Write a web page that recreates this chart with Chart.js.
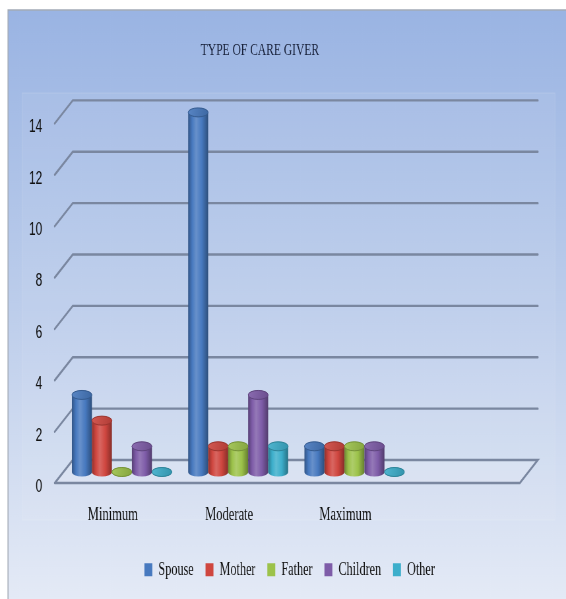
<!DOCTYPE html>
<html>
<head>
<meta charset="utf-8">
<script src="https://cdn.jsdelivr.net/npm/chart.js@4.4.1/dist/chart.umd.min.js"></script>
<style>
  html, body { margin: 0; padding: 0; background: #fff; overflow: hidden; }
  /* the chart is laid out wide and squeezed sideways, which gives the narrow lettering */
  #wrap { width: 858px; height: 599px; transform: scaleX(0.65967); transform-origin: 0 0; }
</style>
</head>
<body>
<div id="wrap"><canvas id="chart" width="858" height="599"></canvas></div>
<script>
const categories = ['Minimum', 'Moderate', 'Maximum', ''];
const spouse   = [3, 14, 1, null];
const mother   = [2, 1, 1, null];
const father   = [0, 1, 1, null];
const children = [1, 3, 1, null];
const other    = [0, 1, 0, null];
const yTicks   = [0, 2, 4, 6, 8, 10, 12, 14];

const K = 858 / 566;          // horizontal stretch of the canvas
const DEPTH_X = 18 * K;       // back wall offset
const DEPTH_Y = 23;
const BAR_DX = 9 * K;         // bars stand halfway into the floor
const BAR_DY = 11;
const RY = 4.5;

function shade(hex, amt) {
  const n = parseInt(hex.slice(1), 16);
  let r = n >> 16, g = (n >> 8) & 255, b = n & 255;
  const f = c => Math.round(amt < 0 ? c * (1 + amt) : c + (255 - c) * amt);
  return `rgb(${f(r)}, ${f(g)}, ${f(b)})`;
}

// gradient panel behind everything
const backdrop = {
  id: 'backdrop',
  beforeDraw(chart) {
    const { ctx, width, height } = chart;
    ctx.save();
    ctx.fillStyle = '#fff';
    ctx.fillRect(0, 0, width, height);
    const x0 = 8 * K, y0 = 10;
    const g = ctx.createLinearGradient(0, y0, 0, height);
    g.addColorStop(0, '#9ab4e3');
    g.addColorStop(0.5, '#bccdeb');
    g.addColorStop(1, '#e4eaf6');
    ctx.fillStyle = g;
    ctx.fillRect(x0, y0, width - x0, height - y0);
    ctx.strokeStyle = '#a3aab6';
    ctx.lineWidth = 1.5;
    ctx.beginPath();
    ctx.moveTo(x0, height);
    ctx.lineTo(x0, y0);
    ctx.lineTo(width, y0);
    ctx.stroke();
    // inner plot panel
    ctx.fillStyle = 'rgba(255,255,255,0.06)';
    ctx.fillRect(22 * K, 93, 533 * K, 427);
    ctx.strokeStyle = 'rgba(255,255,255,0.14)';
    ctx.lineWidth = 1;
    ctx.strokeRect(22 * K, 93, 533 * K, 427);
    ctx.restore();
  }
};

// perspective walls: back gridlines, side diagonals and the floor
const walls = {
  id: 'walls',
  beforeDatasetsDraw(chart) {
    const { ctx, chartArea } = chart;
    const y = chart.scales.y;
    const l = chartArea.left, r = chartArea.right;
    ctx.save();
    ctx.lineCap = 'round';
    const base = y.getPixelForValue(0);
    ctx.fillStyle = 'rgba(255,255,255,0.12)';
    ctx.beginPath();
    ctx.moveTo(l, base);
    ctx.lineTo(r, base);
    ctx.lineTo(r + DEPTH_X, base - DEPTH_Y);
    ctx.lineTo(l + DEPTH_X, base - DEPTH_Y);
    ctx.closePath();
    ctx.fill();
    ctx.strokeStyle = '#7a87a0';
    ctx.lineWidth = 2.4;
    yTicks.forEach(v => {
      const py = y.getPixelForValue(v);
      ctx.beginPath();
      ctx.moveTo(l, py);
      ctx.lineTo(l + DEPTH_X, py - DEPTH_Y);
      ctx.lineTo(r + DEPTH_X, py - DEPTH_Y);
      if (v === 0) {
        ctx.lineTo(r, py);
        ctx.lineTo(l, py);
      }
      ctx.stroke();
    });
    ctx.restore();
  }
};

function drawCylinder(ctx, cx, top, bottom, rx, color) {
  const body = ctx.createLinearGradient(cx - rx, 0, cx + rx, 0);
  body.addColorStop(0, shade(color, -0.3));
  body.addColorStop(0.2, color);
  body.addColorStop(0.4, shade(color, 0.18));
  body.addColorStop(0.68, color);
  body.addColorStop(1, shade(color, -0.35));
  ctx.fillStyle = body;
  ctx.beginPath();
  ctx.moveTo(cx - rx, top);
  ctx.lineTo(cx - rx, bottom);
  ctx.ellipse(cx, bottom, rx, RY, 0, Math.PI, 0, true);
  ctx.lineTo(cx + rx, top);
  ctx.ellipse(cx, top, rx, RY, 0, 0, Math.PI, true);
  ctx.closePath();
  ctx.fill();
  // lid
  const lid = ctx.createLinearGradient(cx - rx, top - RY, cx + rx, top + RY);
  lid.addColorStop(0, shade(color, 0.1));
  lid.addColorStop(1, shade(color, -0.15));
  ctx.fillStyle = lid;
  ctx.strokeStyle = shade(color, -0.25);
  ctx.lineWidth = 1;
  ctx.beginPath();
  ctx.ellipse(cx, top, rx, RY, 0, 0, Math.PI * 2);
  ctx.fill();
  ctx.stroke();
}

// bars are rendered as cylinders from the bar elements' own geometry
const cylinders = {
  id: 'cylinders',
  beforeDatasetsDraw(chart) {
    const ctx = chart.ctx;
    const items = [];
    chart.data.datasets.forEach((ds, i) => {
      const meta = chart.getDatasetMeta(i);
      meta.data.forEach((el, j) => {
        if (ds.data[j] === null || ds.data[j] === undefined) return;
        items.push({ el, color: ds.backgroundColor });
      });
    });
    items.sort((a, b) => a.el.x - b.el.x);
    ctx.save();
    items.forEach(({ el, color }) => {
      drawCylinder(ctx, el.x + BAR_DX, el.y - BAR_DY, el.base - BAR_DY, el.width / 2, color);
    });
    ctx.restore();
  },
  beforeDatasetDraw() {
    return false;
  }
};

// nudge the legend row to the right of the plot centre
const legendShift = {
  id: 'legendShift',
  afterLayout(chart) {
    const s = 45;
    chart.legend.left += s;
    chart.legend.right += s;
  }
};

const serif = "'Liberation Serif', 'DejaVu Serif', serif";

new Chart(document.getElementById('chart'), {
  type: 'bar',
  data: {
    labels: categories,
    datasets: [
      { label: 'Spouse', data: spouse, backgroundColor: '#4779bf' },
      { label: 'Mother', data: mother, backgroundColor: '#cf463f' },
      { label: 'Father', data: father, backgroundColor: '#9cc24a' },
      { label: 'Children', data: children, backgroundColor: '#7e5ca8' },
      { label: 'Other', data: other, backgroundColor: '#3caecb' }
    ]
  },
  options: {
    responsive: false,
    animation: false,
    devicePixelRatio: 1,
    layout: { padding: { top: 10, right: 70, bottom: 10, left: 0 } },
    datasets: { bar: { categoryPercentage: 0.86, barPercentage: 1 } },
    scales: {
      x: {
        grid: { display: false },
        border: { display: false },
        ticks: { color: '#0c0c0c', font: { family: serif, size: 19 }, padding: 13 },
        afterFit: scale => { scale.height = 59.5; }
      },
      y: {
        min: 0,
        max: 14,
        grid: { display: false },
        border: { display: false },
        ticks: {
          stepSize: 2,
          color: '#111',
          padding: 11,
          labelOffset: 4,
          font: { family: "'Liberation Sans', 'DejaVu Sans', sans-serif", size: 18 }
        },
        afterFit: scale => { scale.width = 83; }
      }
    },
    plugins: {
      title: {
        display: true,
        text: 'TYPE OF CARE GIVER',
        color: '#18213a',
        font: { family: serif, size: 17.5, weight: 'normal' },
        padding: { top: 30, bottom: 62.4 }
      },
      legend: {
        position: 'bottom',
        labels: {
          color: '#111',
          font: { family: serif, size: 18.5 },
          boxWidth: 12,
          boxHeight: 13,
          padding: 18
        }
      },
      tooltip: { enabled: false }
    }
  },
  plugins: [backdrop, walls, cylinders, legendShift]
});
</script>
</body>
</html>
